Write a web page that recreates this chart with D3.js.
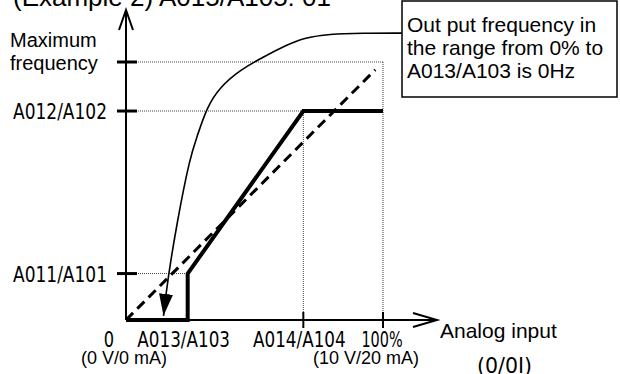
<!DOCTYPE html>
<html>
<head>
<meta charset="utf-8">
<script src="https://cdn.jsdelivr.net/npm/d3@7"></script>
<style>
  body { margin: 0; background: #fff; }
  svg { display: block; }
</style>
</head>
<body>
<div id="content"></div>
<script>
// Valores del grafico (en % de entrada / % de frecuencia)
const startRate = 24;      // A013/A103
const endRate = 69;        // A014/A104
const startFreq = 18;      // A011/A101
const endFreq = 81;        // A012/A102
const maxFreq = 100;       // Maximum frequency

// Curva caracteristica (linea gruesa)
const outputCurve = [[0, 0], [startRate, 0], [startRate, startFreq], [endRate, endFreq], [100, endFreq]];
// Linea de referencia discontinua
const referenceLine = [[0, 0], [97, 97]];
// Flecha de la nota
const noteCurve = [[107.4, 111.2], [92, 111.2], [79, 110.9], [69, 109.3], [62.6, 106.6],
                   [53.3, 101.9], [44.4, 96.9], [36.6, 90.3], [31.5, 82.6], [27.6, 70.9],
                   [24.9, 63.2], [19.8, 37.6], [16.2, 15.5], [14.6, 1.6]];

const xTickLabels = [
    { v: 0, text: '0', dx: -17 },
    { v: startRate, text: 'A013/A103', dx: -4 },
    { v: endRate, text: 'A014/A104', dx: -4 },
    { v: 100, text: '100%', dx: -1 }
];
const yTickLabels = [
    { v: startFreq, text: 'A011/A101' },
    { v: endFreq, text: 'A012/A102' }
];
const noteLines = ['Out put frequency in', 'the range from 0% to', 'A013/A103 is 0Hz'];

const width = 620;
const height = 374;
const narrow = '"DejaVu Sans", sans-serif';
const sans = '"Liberation Sans", Arial, sans-serif';

const x = d3.scaleLinear().domain([0, 100]).range([126, 383]);
const y = d3.scaleLinear().domain([0, 100]).range([320, 62]);

const svg = d3.select('#content')
    .append('svg')
    .attr('width', width)
    .attr('height', height);

svg.append('defs').append('marker')
    .attr('id', 'head')
    .attr('viewBox', '0 0 22 14')
    .attr('refX', 22)
    .attr('refY', 7)
    .attr('markerWidth', 22)
    .attr('markerHeight', 14)
    .attr('markerUnits', 'userSpaceOnUse')
    .attr('orient', 'auto')
    .append('path')
    .attr('d', 'M0,0 L22,7 L0,14 Z')
    .attr('fill', '#000');

// Titulo (cortado arriba)
svg.append('text')
    .attr('x', 13)
    .attr('y', 6)
    .style('font-family', sans)
    .style('font-size', '26px')
    .text('(Example 2) A015/A105: 01');

// Lineas punteadas de guia
const guides = [
    [[0, maxFreq], [100, maxFreq]],
    [[100, maxFreq], [100, 0]],
    [[0, endFreq], [100, endFreq]],
    [[endRate, endFreq], [endRate, 0]],
    [[0, startFreq], [startRate, startFreq]]
];
guides.forEach(g => {
    svg.append('line')
        .attr('x1', x(g[0][0])).attr('y1', y(g[0][1]))
        .attr('x2', x(g[1][0])).attr('y2', y(g[1][1]))
        .attr('stroke', '#444')
        .attr('stroke-width', 1)
        .attr('stroke-dasharray', '1,1');
});

// Ejes
svg.append('line')
    .attr('x1', x(0)).attr('y1', y(0))
    .attr('x2', x(0)).attr('y2', 10)
    .attr('stroke', '#000').attr('stroke-width', 2);
svg.append('path')
    .attr('d', `M${x(0) - 7},30 L${x(0)},10 L${x(0) + 7},30`)
    .attr('fill', 'none').attr('stroke', '#000').attr('stroke-width', 2);
svg.append('line')
    .attr('x1', x(0)).attr('y1', y(0))
    .attr('x2', 437).attr('y2', y(0))
    .attr('stroke', '#000').attr('stroke-width', 2);
svg.append('path')
    .attr('d', `M413,${y(0) - 7} L437,${y(0)} L413,${y(0) + 7}`)
    .attr('fill', 'none').attr('stroke', '#000').attr('stroke-width', 2);

// Marcas de los ejes
[maxFreq, endFreq, startFreq].forEach(v => {
    svg.append('line')
        .attr('x1', x(0) - 9).attr('x2', x(0) + 11)
        .attr('y1', y(v)).attr('y2', y(v))
        .attr('stroke', '#000').attr('stroke-width', 3);
});
[endRate, 100].forEach(v => {
    svg.append('line')
        .attr('x1', x(v)).attr('x2', x(v))
        .attr('y1', y(0) - 8).attr('y2', y(0) + 8)
        .attr('stroke', '#000').attr('stroke-width', 2);
});

// Linea de referencia
const line = d3.line().x(d => x(d[0])).y(d => y(d[1]));
svg.append('path')
    .attr('d', line(referenceLine))
    .attr('fill', 'none')
    .attr('stroke', '#000')
    .attr('stroke-width', 3)
    .attr('stroke-dasharray', '10,6');

// Curva de salida
svg.append('path')
    .attr('d', line(outputCurve))
    .attr('fill', 'none')
    .attr('stroke', '#000')
    .attr('stroke-width', 4)
    .attr('stroke-linejoin', 'miter');

// Nota
svg.append('path')
    .attr('d', line.curve(d3.curveBasis)(noteCurve))
    .attr('fill', 'none')
    .attr('stroke', '#000')
    .attr('stroke-width', 1.6)
    .attr('marker-end', 'url(#head)');

svg.append('rect')
    .attr('x', 402).attr('y', 1)
    .attr('width', 215).attr('height', 96)
    .attr('fill', '#fff')
    .attr('stroke', '#000')
    .attr('stroke-width', 1.5);
svg.append('g').selectAll('text')
    .data(noteLines)
    .join('text')
    .attr('x', 407)
    .attr('y', (d, i) => 32 + i * 23)
    .style('font-family', sans)
    .style('font-size', '21px')
    .text(d => d);

// Etiquetas del eje Y
svg.append('text').attr('x', 10).attr('y', 47)
    .style('font-family', sans).style('font-size', '20px').text('Maximum');
svg.append('text').attr('x', 10).attr('y', 70)
    .style('font-family', sans).style('font-size', '20px').text('frequency');
svg.append('g').selectAll('text')
    .data(yTickLabels)
    .join('text')
    .attr('x', 13)
    .attr('y', d => y(d.v) + 8)
    .attr('textLength', 94)
    .attr('lengthAdjust', 'spacingAndGlyphs')
    .style('font-family', narrow)
    .style('font-size', '21px')
    .text(d => d.text);

// Etiquetas del eje X
svg.append('g').selectAll('text')
    .data(xTickLabels)
    .join('text')
    .attr('x', d => x(d.v) + d.dx)
    .attr('y', 347)
    .attr('text-anchor', 'middle')
    .attr('textLength', d => d.text.length * 10.3)
    .attr('lengthAdjust', 'spacingAndGlyphs')
    .style('font-family', narrow)
    .style('font-size', '21px')
    .text(d => d.text);

svg.append('text').attr('x', 81).attr('y', 364)
    .style('font-family', sans).style('font-size', '18px').text('(0 V/0 mA)');
svg.append('text').attr('x', 313).attr('y', 364)
    .style('font-family', sans).style('font-size', '18px').text('(10 V/20 mA)');
svg.append('text').attr('x', 440).attr('y', 338)
    .style('font-family', sans).style('font-size', '21px').text('Analog input');
svg.append('text').attr('x', 477).attr('y', 373)
    .attr('textLength', 55)
    .attr('lengthAdjust', 'spacingAndGlyphs')
    .style('font-family', narrow).style('font-size', '21px').text('(0/0I)');
</script>
</body>
</html>
